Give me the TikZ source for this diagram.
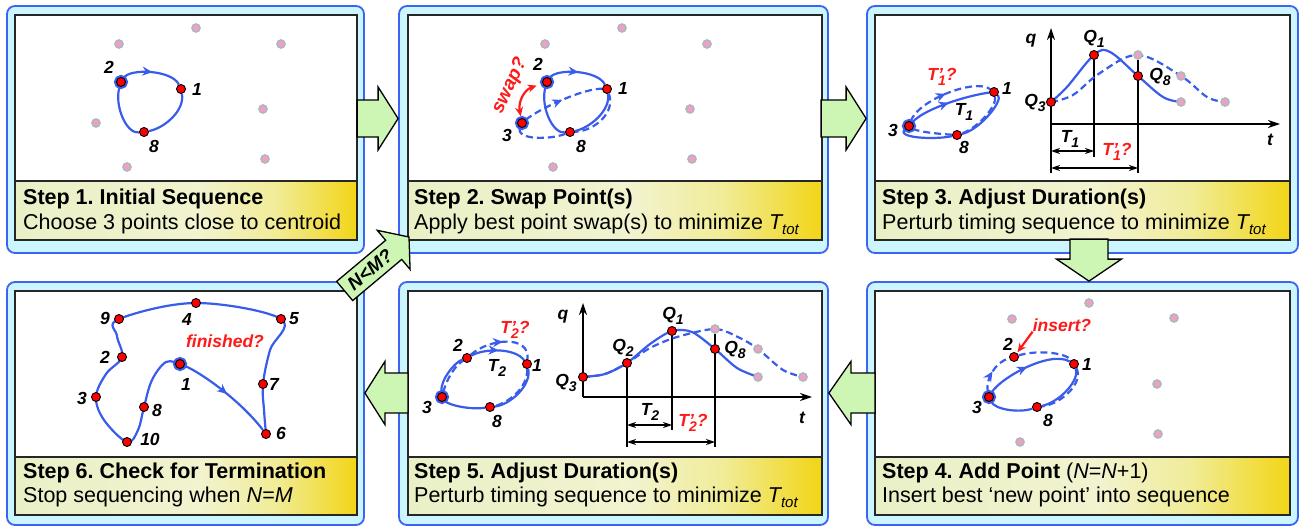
\documentclass[tikz,border=0pt]{standalone}
\usepackage{fontspec}
\setmainfont{Liberation Sans}
\usetikzlibrary{arrows.meta, decorations.markings, calc}
\definecolor{panelfill}{HTML}{CCF6FF}
\definecolor{panelline}{HTML}{3D63F2}
\definecolor{routeblue}{HTML}{3A5CEB}
\definecolor{ghostpink}{HTML}{F59CC8}
\definecolor{ghostgray}{HTML}{A9BBB8}
\definecolor{capleft}{HTML}{E9F0C6}
\definecolor{capmid}{HTML}{F2F3CF}
\definecolor{capmix}{HTML}{F1EC98}
\definecolor{capright}{HTML}{F2D515}
\definecolor{arrowgreen}{HTML}{CDF6B4}
\definecolor{askred}{HTML}{FF1A1A}
\pgfdeclarehorizontalshading{capshade}{100bp}{color(0bp)=(capleft); color(25bp)=(capleft);
  color(52bp)=(capmid); color(63bp)=(capmix); color(75bp)=(capright); color(100bp)=(capright)}
\pgfdeclarelayer{front}
\pgfsetlayers{main,front}
\frenchspacing
\newcommand{\Ttot}{\textit{T\raisebox{-5pt}{\fontsize{15}{15}\selectfont tot}}}
\newcommand{\Tsub}[1]{T\raisebox{-4.5pt}{\fontsize{14}{14}\selectfont #1}}
\newcommand{\Tpr}[1]{T\rlap{'}\raisebox{-4.5pt}{\fontsize{14}{14}\selectfont #1}?}
\newcommand{\Qsub}[1]{Q\raisebox{-4.5pt}{\fontsize{14}{14}\selectfont #1}}

\begin{document}
\begin{tikzpicture}[x=1pt, y=-1pt,
    outerbox/.style={draw=panelline, fill=panelfill, line width=1.8pt, rounded corners=8pt},
    innerbox/.style={draw=black!85, fill=white, line width=2pt},
    capbox/.style={draw=black!85, line width=2pt, shade, shading=capshade},
    captitle/.style={anchor=base west, inner sep=0pt, font=\fontsize{21.5}{25}\selectfont\bfseries},
    capline/.style={anchor=base west, inner sep=0pt, font=\fontsize{21.5}{25}\selectfont},
    bigarrow/.style={draw=black, fill=arrowgreen, line width=1.3pt, line join=miter},
    wpt/.style={circle, draw=black, fill=red, line width=0.9pt, minimum size=9pt, inner sep=0pt},
    home/.style={wpt, preaction={draw=routeblue, line width=5pt}},
    ghost/.style={circle, draw=ghostgray, fill=ghostpink, line width=1.6pt, minimum size=8pt, inner sep=0pt},
    nlab/.style={inner sep=0pt, font=\fontsize{17.5}{17.5}\selectfont\bfseries\itshape},
    asklab/.style={nlab, text=askred},
    route/.style={draw=routeblue, line width=2.2pt},
    droute/.style={route, dash pattern=on 7pt off 4pt},
    midarrow/.style={postaction={decorate, decoration={markings,
        mark=at position #1 with {\pgfsetdash{}{0pt}\arrow{Stealth[length=10pt, width=9pt]}}}}},
    midarrow/.default=0.5,
    qtaxis/.style={line width=1.5pt, -{Stealth[length=12pt, width=8pt]}},
    guide/.style={line width=1.3pt},
    dim/.style={line width=1.1pt, {Stealth[length=9pt, width=6pt]}-{Stealth[length=9pt, width=6pt]}},
    askarrow/.style={draw=askred, line width=2.2pt, -{Stealth[length=9pt, width=8pt]}},
    swaparrow/.style={askarrow, {Stealth[length=9pt, width=8pt]}-{Stealth[length=9pt, width=8pt]}}
  ]
  \useasboundingbox (0,0) rectangle (1307,527);

  % panels: frame, plot area, caption strip
  \foreach \k/\ox/\oy/\ow/\oh/\ix/\iy/\iw/\ih/\ch in {
      1/185.5/129.5/357/247/186/127.5/342/225/59,
      2/613.5/129.5/429/247/615/127.5/414/225/59,
      3/1082.5/129.5/431/247/1082.5/127.5/415/225/59,
      4/1082.5/403.5/431/243/1082.5/403/415/224/58,
      5/613.5/403.5/429/243/615/403/414/224/58,
      6/185.5/403.5/357/243/186/403/342/224/58} {
    \node[outerbox, minimum width=\ow pt, minimum height=\oh pt] (o\k) at (\ox,\oy) {};
    \node[innerbox, minimum width=\iw pt, minimum height=\ih pt] (i\k) at (\ix,\iy) {};
    \node[capbox, minimum width=\iw pt, minimum height=\ch pt, anchor=south] (c\k) at (i\k.south) {};
  }

  % captions
  \node[captitle] (t1) at (23,204) {Step 1. Initial Sequence};
  \node[capline]  (d1) at (23,229) {Choose 3 points close to centroid};
  \node[captitle] (t2) at (414,204) {Step 2. Swap Point(s)};
  \node[capline]  (d2) at (414,229) {Apply best point swap(s) to minimize \Ttot};
  \node[captitle] (t3) at (882,204) {Step 3. Adjust Duration(s)};
  \node[capline]  (d3) at (882,229) {Perturb timing sequence to minimize \Ttot};
  \node[captitle] (t4) at (882,478) {Step 4. Add Point {\mdseries(\textit{N}=\textit{N}+1)}};
  \node[capline]  (d4) at (882,502) {Insert best ‘new point’ into sequence};
  \node[captitle] (t5) at (414,478) {Step 5. Adjust Duration(s)};
  \node[capline]  (d5) at (414,502) {Perturb timing sequence to minimize \Ttot};
  \node[captitle] (t6) at (23,478) {Step 6. Check for Termination};
  \node[capline]  (d6) at (23,502) {Stop sequencing when \textit{N}=\textit{M}};

  % flow arrows between panels
  \draw[bigarrow] ([yshift=11pt]o2.west) coordinate (a12)
    -- ++(-20,-31.5) -- ++(0,13) -- ++(-21,0) -- ++(0,37) -- ++(21,0) -- ++(0,13) -- cycle;
  \draw[bigarrow] ([yshift=11pt]o3.west) coordinate (a23)
    -- ++(-20,-31.5) -- ++(0,13) -- ++(-25,0) -- ++(0,37) -- ++(25,0) -- ++(0,13) -- cycle;
  \draw[bigarrow] ([xshift=6.5pt]o4.north) coordinate (a34)
    -- ++(-32.5,-22) -- ++(13.5,0) -- ++(0,-20) -- ++(38,0) -- ++(0,20) -- ++(13.5,0) -- cycle;
  \draw[bigarrow] ([yshift=10.5pt]o5.east) coordinate (a45)
    -- ++(22,-31.5) -- ++(0,11.5) -- ++(24,0) -- ++(0,40) -- ++(-24,0) -- ++(0,11.5) -- cycle;
  \draw[bigarrow] ([yshift=10.5pt]o6.east) coordinate (a56)
    -- ++(20,-31.5) -- ++(0,11.5) -- ++(23,0) -- ++(0,40) -- ++(-23,0) -- ++(0,11.5) -- cycle;
  \begin{scope}[shift={(409,237)}, rotate=40]
    \draw[bigarrow] (0,0) coordinate (a62) -- (-20,-25.5) -- (-20,-12.5) -- (-84,-12.5)
      -- (-84,12.5) -- (-20,12.5) -- (-20,25.5) -- cycle;
    \node[rotate=40, inner sep=0pt, font=\fontsize{19}{19}\selectfont\bfseries\itshape]
      (a62t) at (-51,0) {N<M?};
  \end{scope}

  \begin{pgfonlayer}{front}
    % step 1 points
    \foreach \i/\x/\y in {1/196/28, 2/119/44, 3/281/44, 4/263/109, 5/96/123, 6/265/159, 7/127/167}
      \node[ghost] (p1g\i) at (\x,\y) {};
    \node[home] (p1n2) at (121,82) {};
    \node[wpt]  (p1n1) at (181,89) {};
    \node[wpt]  (p1n8) at (144,132) {};
    % step 2 points
    \foreach \i/\x/\y in {1/622/28, 2/545/44, 3/707/44, 4/690/109, 5/692/159, 6/553/167}
      \node[ghost] (p2g\i) at (\x,\y) {};
    \node[home] (p2n2) at (547,82) {};
    \node[home] (p2n3) at (522,123) {};
    \node[wpt]  (p2n1) at (607,89) {};
    \node[wpt]  (p2n8) at (570,132) {};
    % step 3 points
    \node[home] (p3n3) at (909,126) {};
    \node[wpt]  (p3n1) at (994,92) {};
    \node[wpt]  (p3n8) at (957,135) {};
    \node[wpt]  (p3q3) at (1051,102) {};
    \node[wpt]  (p3q1) at (1094,55) {};
    \node[wpt]  (p3q8) at (1138,76) {};
    \node[ghost] (p3g1) at (1138,55) {};
    \node[ghost] (p3g2) at (1181,76) {};
    \node[ghost] (p3g3) at (1225,102) {};
    \node[ghost] (p3e1) at (1181,102) {};
    % step 4 points
    \foreach \i/\x/\y in {1/1089/303, 2/1012/319, 3/1174/318, 4/1157/384, 5/1158/434, 6/1020/442}
      \node[ghost] (p4g\i) at (\x,\y) {};
    \node[home] (p4n3) at (989,397) {};
    \node[wpt]  (p4n2) at (1014,357) {};
    \node[wpt]  (p4n1) at (1074,364) {};
    \node[wpt]  (p4n8) at (1037,407) {};
    % step 5 points
    \node[home] (p5n3) at (442,397) {};
    \node[wpt]  (p5n2) at (467,358) {};
    \node[wpt]  (p5n1) at (527,364) {};
    \node[wpt]  (p5n8) at (490,407) {};
    \node[wpt]  (p5q3) at (583,377) {};
    \node[wpt]  (p5q2) at (627,363) {};
    \node[wpt]  (p5q1) at (672,331) {};
    \node[wpt]  (p5q8) at (715,349) {};
    \node[ghost] (p5g1) at (715,329) {};
    \node[ghost] (p5g2) at (758,349) {};
    \node[ghost] (p5g3) at (803,377) {};
    \node[ghost] (p5e1) at (758,377) {};
    % step 6 points
    \node[home] (p6n1) at (180,364) {};
    \foreach \i/\x/\y in {2/122/357, 3/96/397, 4/196/303, 5/281/319, 6/266/434,
                          7/263/384, 8/144/407, 9/119/319, 10/127/442}
      \node[wpt] (p6n\i) at (\x,\y) {};
  \end{pgfonlayer}

  % step 1 route
  \draw[route, midarrow] (p1n2) .. controls (130,68) and (172,70) .. (p1n1);
  \draw[route] (p1n1) .. controls (185,110) and (165,128) .. (p1n8);
  \draw[route] (p1n8) .. controls (126,134) and (114,105) .. (p1n2);
  \foreach \n/\x/\y in {2/109/67, 1/197/89, 8/154/146}
    \node[nlab] (p1l\n) at (\x,\y) {\n};

  % step 2 routes
  \draw[route, midarrow] (p2n2) .. controls (556,68) and (598,70) .. (p2n1);
  \draw[route] (p2n1) .. controls (611,110) and (590,128) .. (p2n8);
  \draw[route] (p2n8) .. controls (552,134) and (540,105) .. (p2n2);
  \draw[droute, midarrow] (p2n3) .. controls (540,108) and (585,88) .. (p2n1);
  \draw[droute] (p2n1) .. controls (616,112) and (595,131) .. (p2n8);
  \draw[droute] (p2n8) .. controls (550,140) and (515,140) .. (p2n3);
  \draw[swaparrow, shorten <=2pt, shorten >=6pt] (p2n3) .. controls (518,102) and (524,90) .. (p2n2);
  \node[asklab, rotate=65, font=\fontsize{19}{19}\selectfont\bfseries\itshape] (p2sw) at (510,86) {swap?};
  \foreach \n/\x/\y in {2/538/64, 1/623/88, 3/507/135, 8/581/146}
    \node[nlab] (p2l\n) at (\x,\y) {\n};

  % step 3 routes
  \draw[route, midarrow] (p3n3) .. controls (925,108) and (970,95) .. (p3n1);
  \draw[route] (p3n1) .. controls (1004,100) and (980,130) .. (p3n8);
  \draw[route] (p3n8) .. controls (935,140) and (895,138) .. (p3n3);
  \draw[droute, midarrow] (p3n3) .. controls (918,100) and (975,78) .. (p3n1);
  \draw[droute] (p3n1) .. controls (997,106) and (978,128) .. (p3n8);
  \draw[droute] (p3n8) .. controls (940,134) and (918,132) .. (p3n3);
  \foreach \n/\x/\y in {3/893/130, 1/1007/88, 8/964/147}
    \node[nlab] (p3l\n) at (\x,\y) {\n};
  \node[nlab] (p3t1) at (964,112) {\Tsub{1}};
  \node[asklab] (p3t1p) at (942,77) {\Tpr{1}};

  % step 3 timing plot
  \coordinate (p3o) at (1051,124);
  \coordinate (p3b) at (1051,173);
  \coordinate (p3q) at (1051,28);
  \coordinate (p3t) at (1280,124);
  \draw[qtaxis] (p3b) -- (p3q);
  \draw[qtaxis] (p3o) -- (p3t);
  \draw[guide] (p3q1) -- (p3q1 |- 0,157);
  \draw[guide] (p3g1) -- (p3g1 |- 0,173);
  \draw[dim] (p3o |- 0,151) -- (p3q1 |- 0,151);
  \draw[dim] (p3o |- 0,168) -- (p3g1 |- 0,168);
  \draw[route] plot[smooth, tension=0.6] coordinates
    {(p3q3) (1067,87) (p3q1) (1110,52) (p3q8) (1163,97) (p3e1)};
  \draw[droute] plot[smooth, tension=0.6] coordinates
    {(p3q3) (1073,95) (1100,73) (p3g1) (p3g2) (1207,97) (p3g3)};
  \node[nlab] (p3lq) at (1031,41) {q};
  \node[nlab] (p3lt) at (1270,140) {t};
  \node[nlab] (p3lq3) at (1035,103) {\Qsub{3}};
  \node[nlab] (p3lq1) at (1094,39) {\Qsub{1}};
  \node[nlab] (p3lq8) at (1160,77) {\Qsub{8}};
  \node[nlab] (p3d1) at (1070,139) {\Tsub{1}};
  \node[asklab] (p3d2) at (1117,152) {\Tpr{1}};

  % step 4 routes
  \draw[route, midarrow] (p4n3) .. controls (1000,378) and (1050,350) .. (p4n1);
  \draw[route] (p4n1) .. controls (1080,380) and (1060,402) .. (p4n8);
  \draw[route] (p4n8) .. controls (1020,413) and (995,410) .. (p4n3);
  \draw[droute, midarrow] (p4n3) .. controls (985,380) and (995,362) .. (p4n2);
  \draw[droute] (p4n2) .. controls (1035,350) and (1065,352) .. (p4n1);
  \draw[droute] (p4n1) .. controls (1084,382) and (1062,404) .. (p4n8);
  \node[asklab] (p4ins) at (1062,325) {insert?};
  \draw[askarrow, shorten >=1pt] (p4ins.south west) -- (p4n2);
  \foreach \n/\x/\y in {2/1008/344, 1/1087/364, 3/977/407, 8/1048/420}
    \node[nlab] (p4l\n) at (\x,\y) {\n};

  % step 5 routes
  \draw[route] (p5n3) .. controls (440,380) and (455,362) .. (p5n2);
  \draw[route, midarrow] (p5n2) .. controls (485,348) and (515,348) .. (p5n1);
  \draw[route] (p5n1) .. controls (532,385) and (510,405) .. (p5n8);
  \draw[route] (p5n8) .. controls (470,410) and (448,405) .. (p5n3);
  \draw[droute] (p5n3) .. controls (447,378) and (455,366) .. (p5n2);
  \draw[droute, midarrow] (p5n2) .. controls (490,338) and (530,335) .. (p5n1);
  \draw[droute] (p5n1) .. controls (528,388) and (508,403) .. (p5n8);
  \foreach \n/\x/\y in {2/458/345, 1/537/365, 3/427/407, 8/497/421}
    \node[nlab] (p5l\n) at (\x,\y) {\n};
  \node[nlab] (p5t2) at (497,368) {\Tsub{2}};
  \node[asklab] (p5t2p) at (515,330) {\Tpr{2}};

  % step 5 timing plot
  \coordinate (p5o) at (583,397);
  \coordinate (p5q) at (583,303);
  \coordinate (p5t) at (812,397);
  \draw[qtaxis] (p5o) -- (p5q);
  \draw[qtaxis] (p5o) -- (p5t);
  \draw[guide] (p5q2) -- (p5q2 |- 0,447);
  \draw[guide] (p5q1) -- (p5q1 |- 0,430);
  \draw[guide] (p5g1) -- (p5g1 |- 0,447);
  \draw[dim] (p5q2 |- 0,425) -- (p5q1 |- 0,425);
  \draw[dim] (p5q2 |- 0,442) -- (p5g1 |- 0,442);
  \draw[route] plot[smooth, tension=0.5] coordinates
    {(p5q3) (605,374) (p5q2) (650,344) (p5q1) (692,332) (p5q8) (737,368) (p5e1)};
  \draw[droute] plot[smooth, tension=0.5] coordinates
    {(p5q3) (605,374) (p5q2) (650,348) (677,337) (p5g1) (740,338) (p5g2) (783,370) (p5g3)};
  \node[nlab] (p5lq) at (563,317) {q};
  \node[nlab] (p5lt) at (802,418) {t};
  \node[nlab] (p5lq3) at (566,383) {\Qsub{3}};
  \node[nlab] (p5lq2) at (623,348) {\Qsub{2}};
  \node[nlab] (p5lq1) at (673,316) {\Qsub{1}};
  \node[nlab] (p5lq8) at (735,350) {\Qsub{8}};
  \node[nlab] (p5d1) at (650,412) {\Tsub{2}};
  \node[asklab] (p5d2) at (693,423) {\Tpr{2}};

  % step 6 route
  \draw[route, midarrow] (p6n1) .. controls (200,372) and (240,400) .. (p6n6);
  \draw[route] plot[smooth, tension=0.6] coordinates
    {(p6n6) (264,410) (p6n7) (270,350) (p6n5) (p6n4) (p6n9) (117,336) (p6n2)
     (106,374) (p6n3) (104,420) (p6n10) (138,430) (p6n8) (152,380) (166,362) (p6n1)};
  \foreach \n/\x/\y in {9/105/318, 4/187/319, 5/294/319, 2/105/357, 1/186/384,
                        7/274/384, 3/82/398, 8/157/410, 6/281/433, 10/150/439}
    \node[nlab] (p6l\n) at (\x,\y) {\n};
  \node[asklab] (p6fin) at (225,341) {finished?};
\end{tikzpicture}
\end{document}
